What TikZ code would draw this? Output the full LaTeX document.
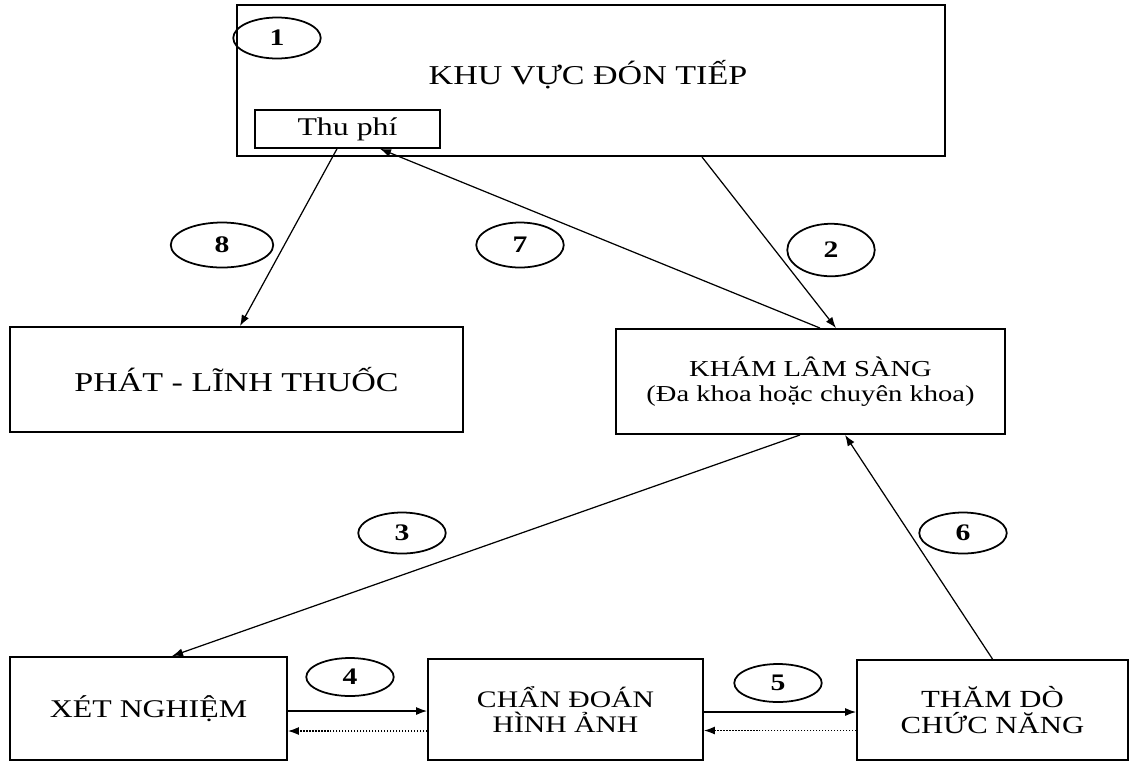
\documentclass[tikz,border=0pt]{standalone}
\usepackage{fontspec}
\setmainfont{Liberation Serif}[FakeStretch=1.25]
\usetikzlibrary{arrows.meta, positioning, shapes.geometric}

\begin{document}
\begin{tikzpicture}[
    x=0.02cm, y=-0.02cm,
    box/.style={draw=black, line width=1.1pt, rectangle, inner sep=0pt, align=center},
    numoval/.style={draw=black, ellipse, line width=1pt, minimum width=1.75cm, minimum height=0.82cm, inner sep=0pt, font=\fontsize{13.5}{15}\selectfont\bfseries},
    flow/.style={-{Latex[length=2.2mm, width=1.6mm]}, line width=0.7pt},
    back/.style={flow, densely dotted}
]
\useasboundingbox (0,0) rectangle (1131,762);

% Reception area
\node[box, minimum width=14.16cm, minimum height=3.02cm] (reception) at (591,80.5) {};
\node[font=\fontsize{15.5}{18}\selectfont] (receptiontxt) at (588,75) {KHU VỰC ĐÓN TIẾP};
\node[box, line width=0.9pt, minimum width=3.7cm, minimum height=0.76cm, font=\fontsize{14.5}{16}\selectfont] (fee) at (347.5,129) {Thu phí};

% Second row
\node[box, minimum width=9.06cm, minimum height=2.1cm, font=\fontsize{15.5}{18}\selectfont] (drug) at (236.5,379.5) {PHÁT - LĨNH THUỐC};
\node[box, minimum width=7.78cm, minimum height=2.1cm, font=\fontsize{13}{14.5}\selectfont] (exam) at (810.5,381.5) {KHÁM LÂM SÀNG\\(Đa khoa hoặc chuyên khoa)};

% Bottom row
\node[box, minimum width=5.54cm, minimum height=2.06cm, font=\fontsize{14.5}{16}\selectfont] (lab) at (148.5,708.5) {XÉT NGHIỆM};
\node[box, minimum width=5.5cm, minimum height=2.02cm, font=\fontsize{13.5}{14.5}\selectfont] (imaging) at (565.5,709.5) {CHẨN ĐOÁN\\HÌNH ẢNH};
\node[box, minimum width=5.42cm, minimum height=2.0cm, font=\fontsize{14}{14.5}\selectfont] (func) at (992.5,710) {THĂM DÒ\\CHỨC NĂNG};

% Step numbers
\node[numoval] (n1) at (277,38) {1};
\node[numoval, minimum width=2.05cm, minimum height=0.9cm] (n8) at (222,245) {8};
\node[numoval, minimum height=0.9cm] (n7) at (520,245) {7};
\node[numoval, minimum height=1.05cm] (n2) at (831,250) {2};
\node[numoval] (n3) at (402,533) {3};
\node[numoval] (n6) at (963,533) {6};
\node[numoval, minimum height=0.76cm] (n4) at (350,677) {4};
\node[numoval, minimum height=0.76cm] (n5) at (778,683) {5};

% Arrows
\draw[flow] ([xshift=2.22cm]reception.south) -- ([xshift=0.51cm]exam.north);
\draw[flow] ([xshift=0.19cm]exam.north) -- ([xshift=0.65cm]fee.south);
\draw[flow] ([xshift=-0.21cm]fee.south) -- ([xshift=0.07cm]drug.north);
\draw[flow] ([xshift=-0.21cm]exam.south) -- ([xshift=0.47cm]lab.north);
\draw[flow] (func.north) -- ([xshift=0.69cm]exam.south);

\draw[flow] ([yshift=-0.05cm]lab.east) -- ([yshift=-0.05cm]lab.east -| imaging.west);
\draw[back] ([yshift=-0.43cm]imaging.west) -- ([yshift=-0.43cm]imaging.west -| lab.east);
\draw[flow] ([yshift=-0.05cm]imaging.east) -- ([yshift=-0.05cm]imaging.east -| func.west);
\draw[back] ([yshift=-0.41cm]func.west) -- ([yshift=-0.41cm]func.west -| imaging.east);

\end{tikzpicture}
\end{document}
